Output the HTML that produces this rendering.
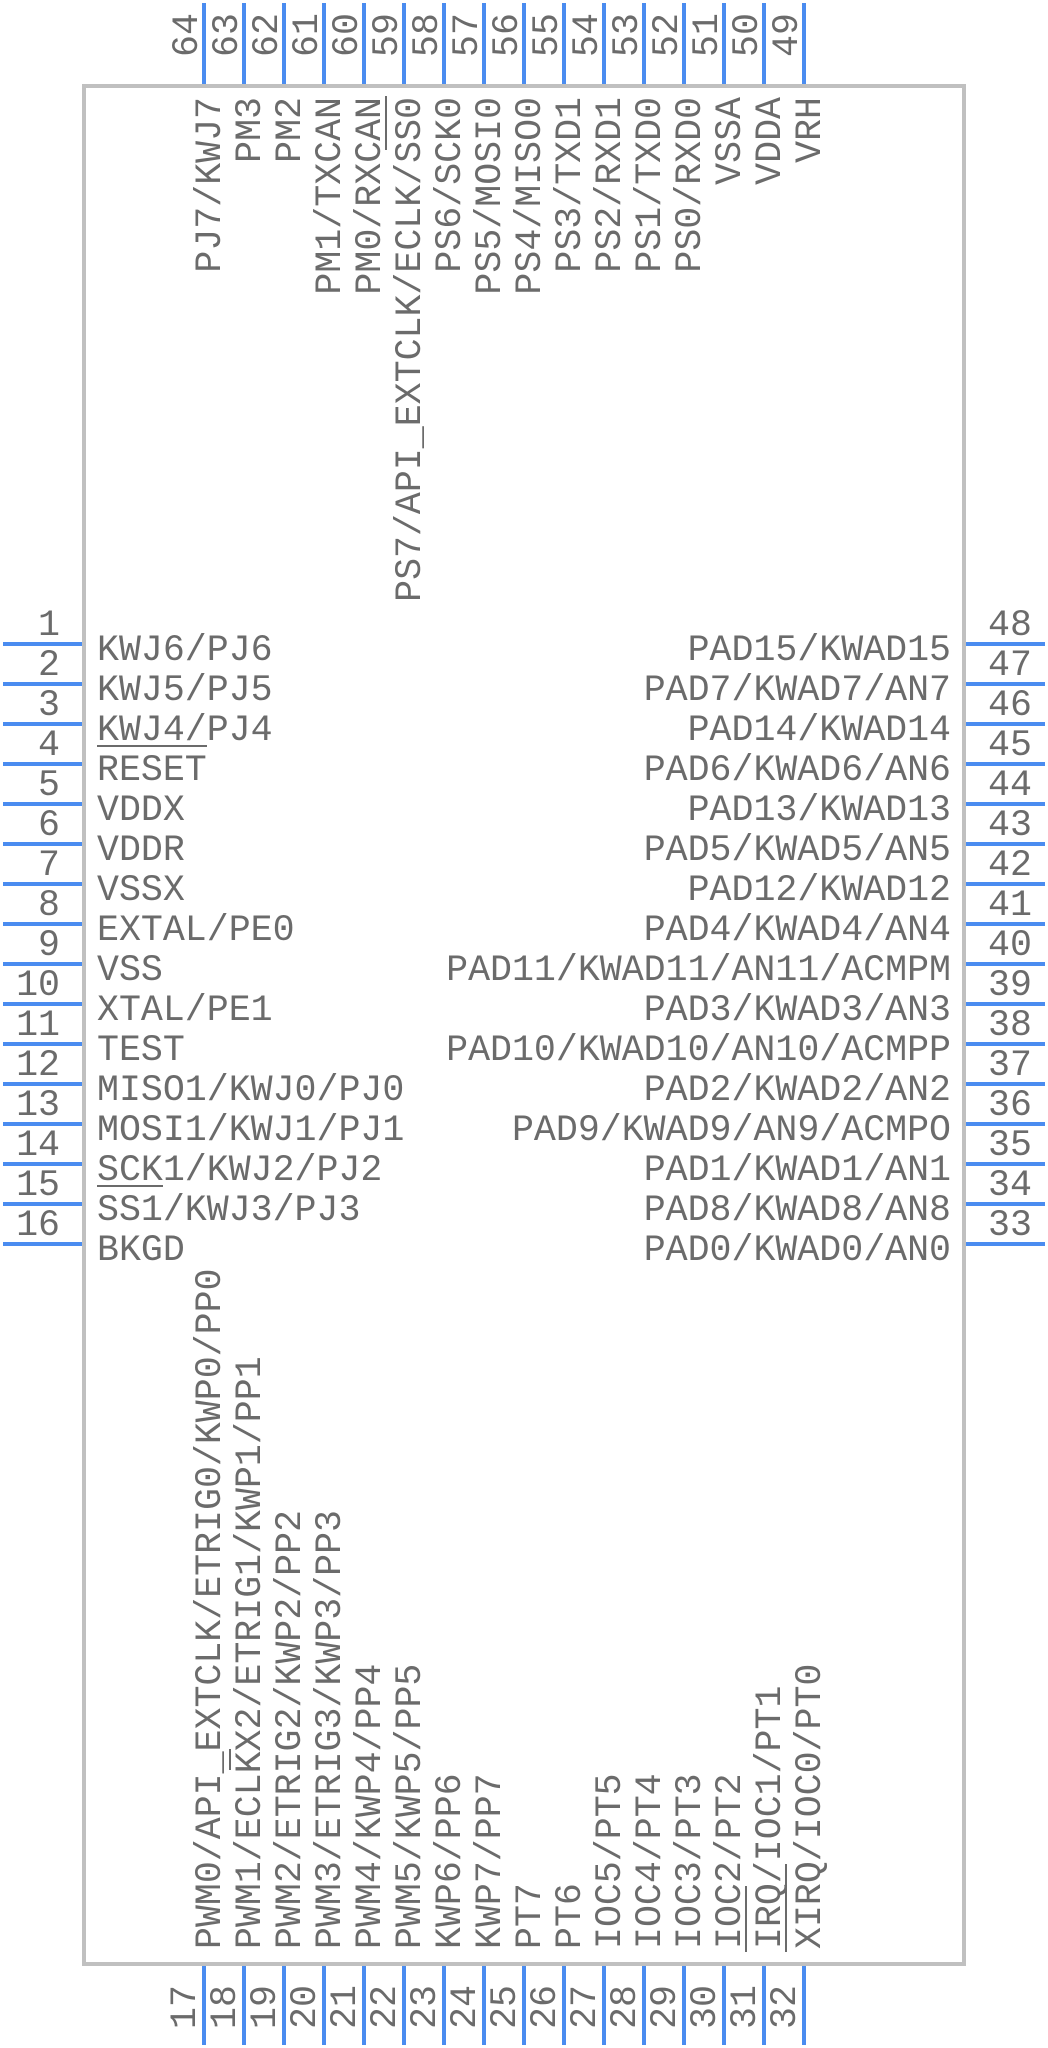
<!DOCTYPE html>
<html><head><meta charset="utf-8"><style>
html,body{margin:0;padding:0;background:#fff;}
svg{display:block;}
text{font-family:"Liberation Mono",monospace;font-size:36.6px;fill:#6b6b6b;}
</style></head><body>
<svg width="1048" height="2048" viewBox="0 0 1048 2048" xmlns="http://www.w3.org/2000/svg">
<rect x="84" y="86" width="880" height="1878" fill="none" stroke="#c0c0c0" stroke-width="4"/>
<g stroke="#4a8cf0" stroke-width="4">
<!-- left -->
<line x1="3" y1="644" x2="82" y2="644"/><line x1="3" y1="684" x2="82" y2="684"/><line x1="3" y1="724" x2="82" y2="724"/><line x1="3" y1="764" x2="82" y2="764"/>
<line x1="3" y1="804" x2="82" y2="804"/><line x1="3" y1="844" x2="82" y2="844"/><line x1="3" y1="884" x2="82" y2="884"/><line x1="3" y1="924" x2="82" y2="924"/>
<line x1="3" y1="964" x2="82" y2="964"/><line x1="3" y1="1004" x2="82" y2="1004"/><line x1="3" y1="1044" x2="82" y2="1044"/><line x1="3" y1="1084" x2="82" y2="1084"/>
<line x1="3" y1="1124" x2="82" y2="1124"/><line x1="3" y1="1164" x2="82" y2="1164"/><line x1="3" y1="1204" x2="82" y2="1204"/><line x1="3" y1="1244" x2="82" y2="1244"/>
<!-- right -->
<line x1="966" y1="644" x2="1045" y2="644"/><line x1="966" y1="684" x2="1045" y2="684"/><line x1="966" y1="724" x2="1045" y2="724"/><line x1="966" y1="764" x2="1045" y2="764"/>
<line x1="966" y1="804" x2="1045" y2="804"/><line x1="966" y1="844" x2="1045" y2="844"/><line x1="966" y1="884" x2="1045" y2="884"/><line x1="966" y1="924" x2="1045" y2="924"/>
<line x1="966" y1="964" x2="1045" y2="964"/><line x1="966" y1="1004" x2="1045" y2="1004"/><line x1="966" y1="1044" x2="1045" y2="1044"/><line x1="966" y1="1084" x2="1045" y2="1084"/>
<line x1="966" y1="1124" x2="1045" y2="1124"/><line x1="966" y1="1164" x2="1045" y2="1164"/><line x1="966" y1="1204" x2="1045" y2="1204"/><line x1="966" y1="1244" x2="1045" y2="1244"/>
<!-- top -->
<line x1="204" y1="3" x2="204" y2="84"/><line x1="244" y1="3" x2="244" y2="84"/><line x1="284" y1="3" x2="284" y2="84"/><line x1="324" y1="3" x2="324" y2="84"/>
<line x1="364" y1="3" x2="364" y2="84"/><line x1="404" y1="3" x2="404" y2="84"/><line x1="444" y1="3" x2="444" y2="84"/><line x1="484" y1="3" x2="484" y2="84"/>
<line x1="524" y1="3" x2="524" y2="84"/><line x1="564" y1="3" x2="564" y2="84"/><line x1="604" y1="3" x2="604" y2="84"/><line x1="644" y1="3" x2="644" y2="84"/>
<line x1="684" y1="3" x2="684" y2="84"/><line x1="724" y1="3" x2="724" y2="84"/><line x1="764" y1="3" x2="764" y2="84"/><line x1="804" y1="3" x2="804" y2="84"/>
<!-- bottom -->
<line x1="204" y1="1966" x2="204" y2="2045"/><line x1="244" y1="1966" x2="244" y2="2045"/><line x1="284" y1="1966" x2="284" y2="2045"/><line x1="324" y1="1966" x2="324" y2="2045"/>
<line x1="364" y1="1966" x2="364" y2="2045"/><line x1="404" y1="1966" x2="404" y2="2045"/><line x1="444" y1="1966" x2="444" y2="2045"/><line x1="484" y1="1966" x2="484" y2="2045"/>
<line x1="524" y1="1966" x2="524" y2="2045"/><line x1="564" y1="1966" x2="564" y2="2045"/><line x1="604" y1="1966" x2="604" y2="2045"/><line x1="644" y1="1966" x2="644" y2="2045"/>
<line x1="684" y1="1966" x2="684" y2="2045"/><line x1="724" y1="1966" x2="724" y2="2045"/><line x1="764" y1="1966" x2="764" y2="2045"/><line x1="804" y1="1966" x2="804" y2="2045"/>
</g>
<!-- left numbers -->
<g text-anchor="end">
<text x="60" y="635">1</text><text x="60" y="675">2</text><text x="60" y="715">3</text><text x="60" y="755">4</text>
<text x="60" y="795">5</text><text x="60" y="835">6</text><text x="60" y="875">7</text><text x="60" y="915">8</text>
<text x="60" y="955">9</text><text x="60" y="995">10</text><text x="60" y="1035">11</text><text x="60" y="1075">12</text>
<text x="60" y="1115">13</text><text x="60" y="1155">14</text><text x="60" y="1195">15</text><text x="60" y="1235">16</text>
</g>
<!-- left labels -->
<g>
<text x="97" y="660">KWJ6/PJ6</text><text x="97" y="700">KWJ5/PJ5</text><text x="97" y="740">KWJ4/PJ4</text><text x="97" y="780">RESET</text>
<text x="97" y="820">VDDX</text><text x="97" y="860">VDDR</text><text x="97" y="900">VSSX</text><text x="97" y="940">EXTAL/PE0</text>
<text x="97" y="980">VSS</text><text x="97" y="1020">XTAL/PE1</text><text x="97" y="1060">TEST</text><text x="97" y="1100">MISO1/KWJ0/PJ0</text>
<text x="97" y="1140">MOSI1/KWJ1/PJ1</text><text x="97" y="1180">SCK1/KWJ2/PJ2</text><text x="97" y="1220">SS1/KWJ3/PJ3</text><text x="97" y="1260">BKGD</text>
</g>
<!-- right numbers -->
<g>
<text x="988" y="635">48</text><text x="988" y="675">47</text><text x="988" y="715">46</text><text x="988" y="755">45</text>
<text x="988" y="795">44</text><text x="988" y="835">43</text><text x="988" y="875">42</text><text x="988" y="915">41</text>
<text x="988" y="955">40</text><text x="988" y="995">39</text><text x="988" y="1035">38</text><text x="988" y="1075">37</text>
<text x="988" y="1115">36</text><text x="988" y="1155">35</text><text x="988" y="1195">34</text><text x="988" y="1235">33</text>
</g>
<!-- right labels -->
<g text-anchor="end">
<text x="951" y="660">PAD15/KWAD15</text><text x="951" y="700">PAD7/KWAD7/AN7</text><text x="951" y="740">PAD14/KWAD14</text><text x="951" y="780">PAD6/KWAD6/AN6</text>
<text x="951" y="820">PAD13/KWAD13</text><text x="951" y="860">PAD5/KWAD5/AN5</text><text x="951" y="900">PAD12/KWAD12</text><text x="951" y="940">PAD4/KWAD4/AN4</text>
<text x="951" y="980">PAD11/KWAD11/AN11/ACMPM</text><text x="951" y="1020">PAD3/KWAD3/AN3</text><text x="951" y="1060">PAD10/KWAD10/AN10/ACMPP</text><text x="951" y="1100">PAD2/KWAD2/AN2</text>
<text x="951" y="1140">PAD9/KWAD9/AN9/ACMPO</text><text x="951" y="1180">PAD1/KWAD1/AN1</text><text x="951" y="1220">PAD8/KWAD8/AN8</text><text x="951" y="1260">PAD0/KWAD0/AN0</text>
</g>
<!-- top numbers -->
<g>
<text transform="translate(197,57) rotate(-90)">64</text><text transform="translate(237,57) rotate(-90)">63</text><text transform="translate(277,57) rotate(-90)">62</text><text transform="translate(317,57) rotate(-90)">61</text>
<text transform="translate(357,57) rotate(-90)">60</text><text transform="translate(397,57) rotate(-90)">59</text><text transform="translate(437,57) rotate(-90)">58</text><text transform="translate(477,57) rotate(-90)">57</text>
<text transform="translate(517,57) rotate(-90)">56</text><text transform="translate(557,57) rotate(-90)">55</text><text transform="translate(597,57) rotate(-90)">54</text><text transform="translate(637,57) rotate(-90)">53</text>
<text transform="translate(677,57) rotate(-90)">52</text><text transform="translate(717,57) rotate(-90)">51</text><text transform="translate(757,57) rotate(-90)">50</text><text transform="translate(797,57) rotate(-90)">49</text>
</g>
<!-- top labels -->
<g text-anchor="end">
<text transform="translate(220,97) rotate(-90)">PJ7/KWJ7</text><text transform="translate(260,97) rotate(-90)">PM3</text><text transform="translate(300,97) rotate(-90)">PM2</text><text transform="translate(340,97) rotate(-90)">PM1/TXCAN</text>
<text transform="translate(380,97) rotate(-90)">PM0/RXCAN</text><text transform="translate(420,97) rotate(-90)">PS7/API_EXTCLK/ECLK/SS0</text><text transform="translate(460,97) rotate(-90)">PS6/SCK0</text><text transform="translate(500,97) rotate(-90)">PS5/MOSI0</text>
<text transform="translate(540,97) rotate(-90)">PS4/MISO0</text><text transform="translate(580,97) rotate(-90)">PS3/TXD1</text><text transform="translate(620,97) rotate(-90)">PS2/RXD1</text><text transform="translate(660,97) rotate(-90)">PS1/TXD0</text>
<text transform="translate(700,97) rotate(-90)">PS0/RXD0</text><text transform="translate(740,97) rotate(-90)">VSSA</text><text transform="translate(780,97) rotate(-90)">VDDA</text><text transform="translate(820,97) rotate(-90)">VRH</text>
</g>
<!-- bottom numbers -->
<g>
<text transform="translate(195,2029) rotate(-90)">17</text><text transform="translate(235,2029) rotate(-90)">18</text><text transform="translate(275,2029) rotate(-90)">19</text><text transform="translate(315,2029) rotate(-90)">20</text>
<text transform="translate(355,2029) rotate(-90)">21</text><text transform="translate(395,2029) rotate(-90)">22</text><text transform="translate(435,2029) rotate(-90)">23</text><text transform="translate(475,2029) rotate(-90)">24</text>
<text transform="translate(515,2029) rotate(-90)">25</text><text transform="translate(555,2029) rotate(-90)">26</text><text transform="translate(595,2029) rotate(-90)">27</text><text transform="translate(635,2029) rotate(-90)">28</text>
<text transform="translate(675,2029) rotate(-90)">29</text><text transform="translate(715,2029) rotate(-90)">30</text><text transform="translate(755,2029) rotate(-90)">31</text><text transform="translate(795,2029) rotate(-90)">32</text>
</g>
<!-- bottom labels -->
<g>
<text transform="translate(220,1949) rotate(-90)">PWM0/API_EXTCLK/ETRIG0/KWP0/PP0</text><text transform="translate(260,1949) rotate(-90)">PWM1/ECLKX2/ETRIG1/KWP1/PP1</text><text transform="translate(300,1949) rotate(-90)">PWM2/ETRIG2/KWP2/PP2</text><text transform="translate(340,1949) rotate(-90)">PWM3/ETRIG3/KWP3/PP3</text>
<text transform="translate(380,1949) rotate(-90)">PWM4/KWP4/PP4</text><text transform="translate(420,1949) rotate(-90)">PWM5/KWP5/PP5</text><text transform="translate(460,1949) rotate(-90)">KWP6/PP6</text><text transform="translate(500,1949) rotate(-90)">KWP7/PP7</text>
<text transform="translate(540,1949) rotate(-90)">PT7</text><text transform="translate(580,1949) rotate(-90)">PT6</text><text transform="translate(620,1949) rotate(-90)">IOC5/PT5</text><text transform="translate(660,1949) rotate(-90)">IOC4/PT4</text>
<text transform="translate(700,1949) rotate(-90)">IOC3/PT3</text><text transform="translate(740,1949) rotate(-90)">IOC2/PT2</text><text transform="translate(780,1949) rotate(-90)">IRQ/IOC1/PT1</text><text transform="translate(820,1949) rotate(-90)">XIRQ/IOC0/PT0</text>
</g>
<!-- overlines -->
<g stroke="#6b6b6b" stroke-width="2">
<line x1="97" y1="746" x2="207" y2="746"/>
<line x1="97" y1="1186" x2="163" y2="1186"/>
<line x1="386" y1="96" x2="386" y2="150"/>
<line x1="230" y1="1749" x2="230" y2="1770"/>
<line x1="746" y1="1886" x2="746" y2="1952"/>
<line x1="786" y1="1864" x2="786" y2="1952"/>
</g>
</svg>
</body></html>
